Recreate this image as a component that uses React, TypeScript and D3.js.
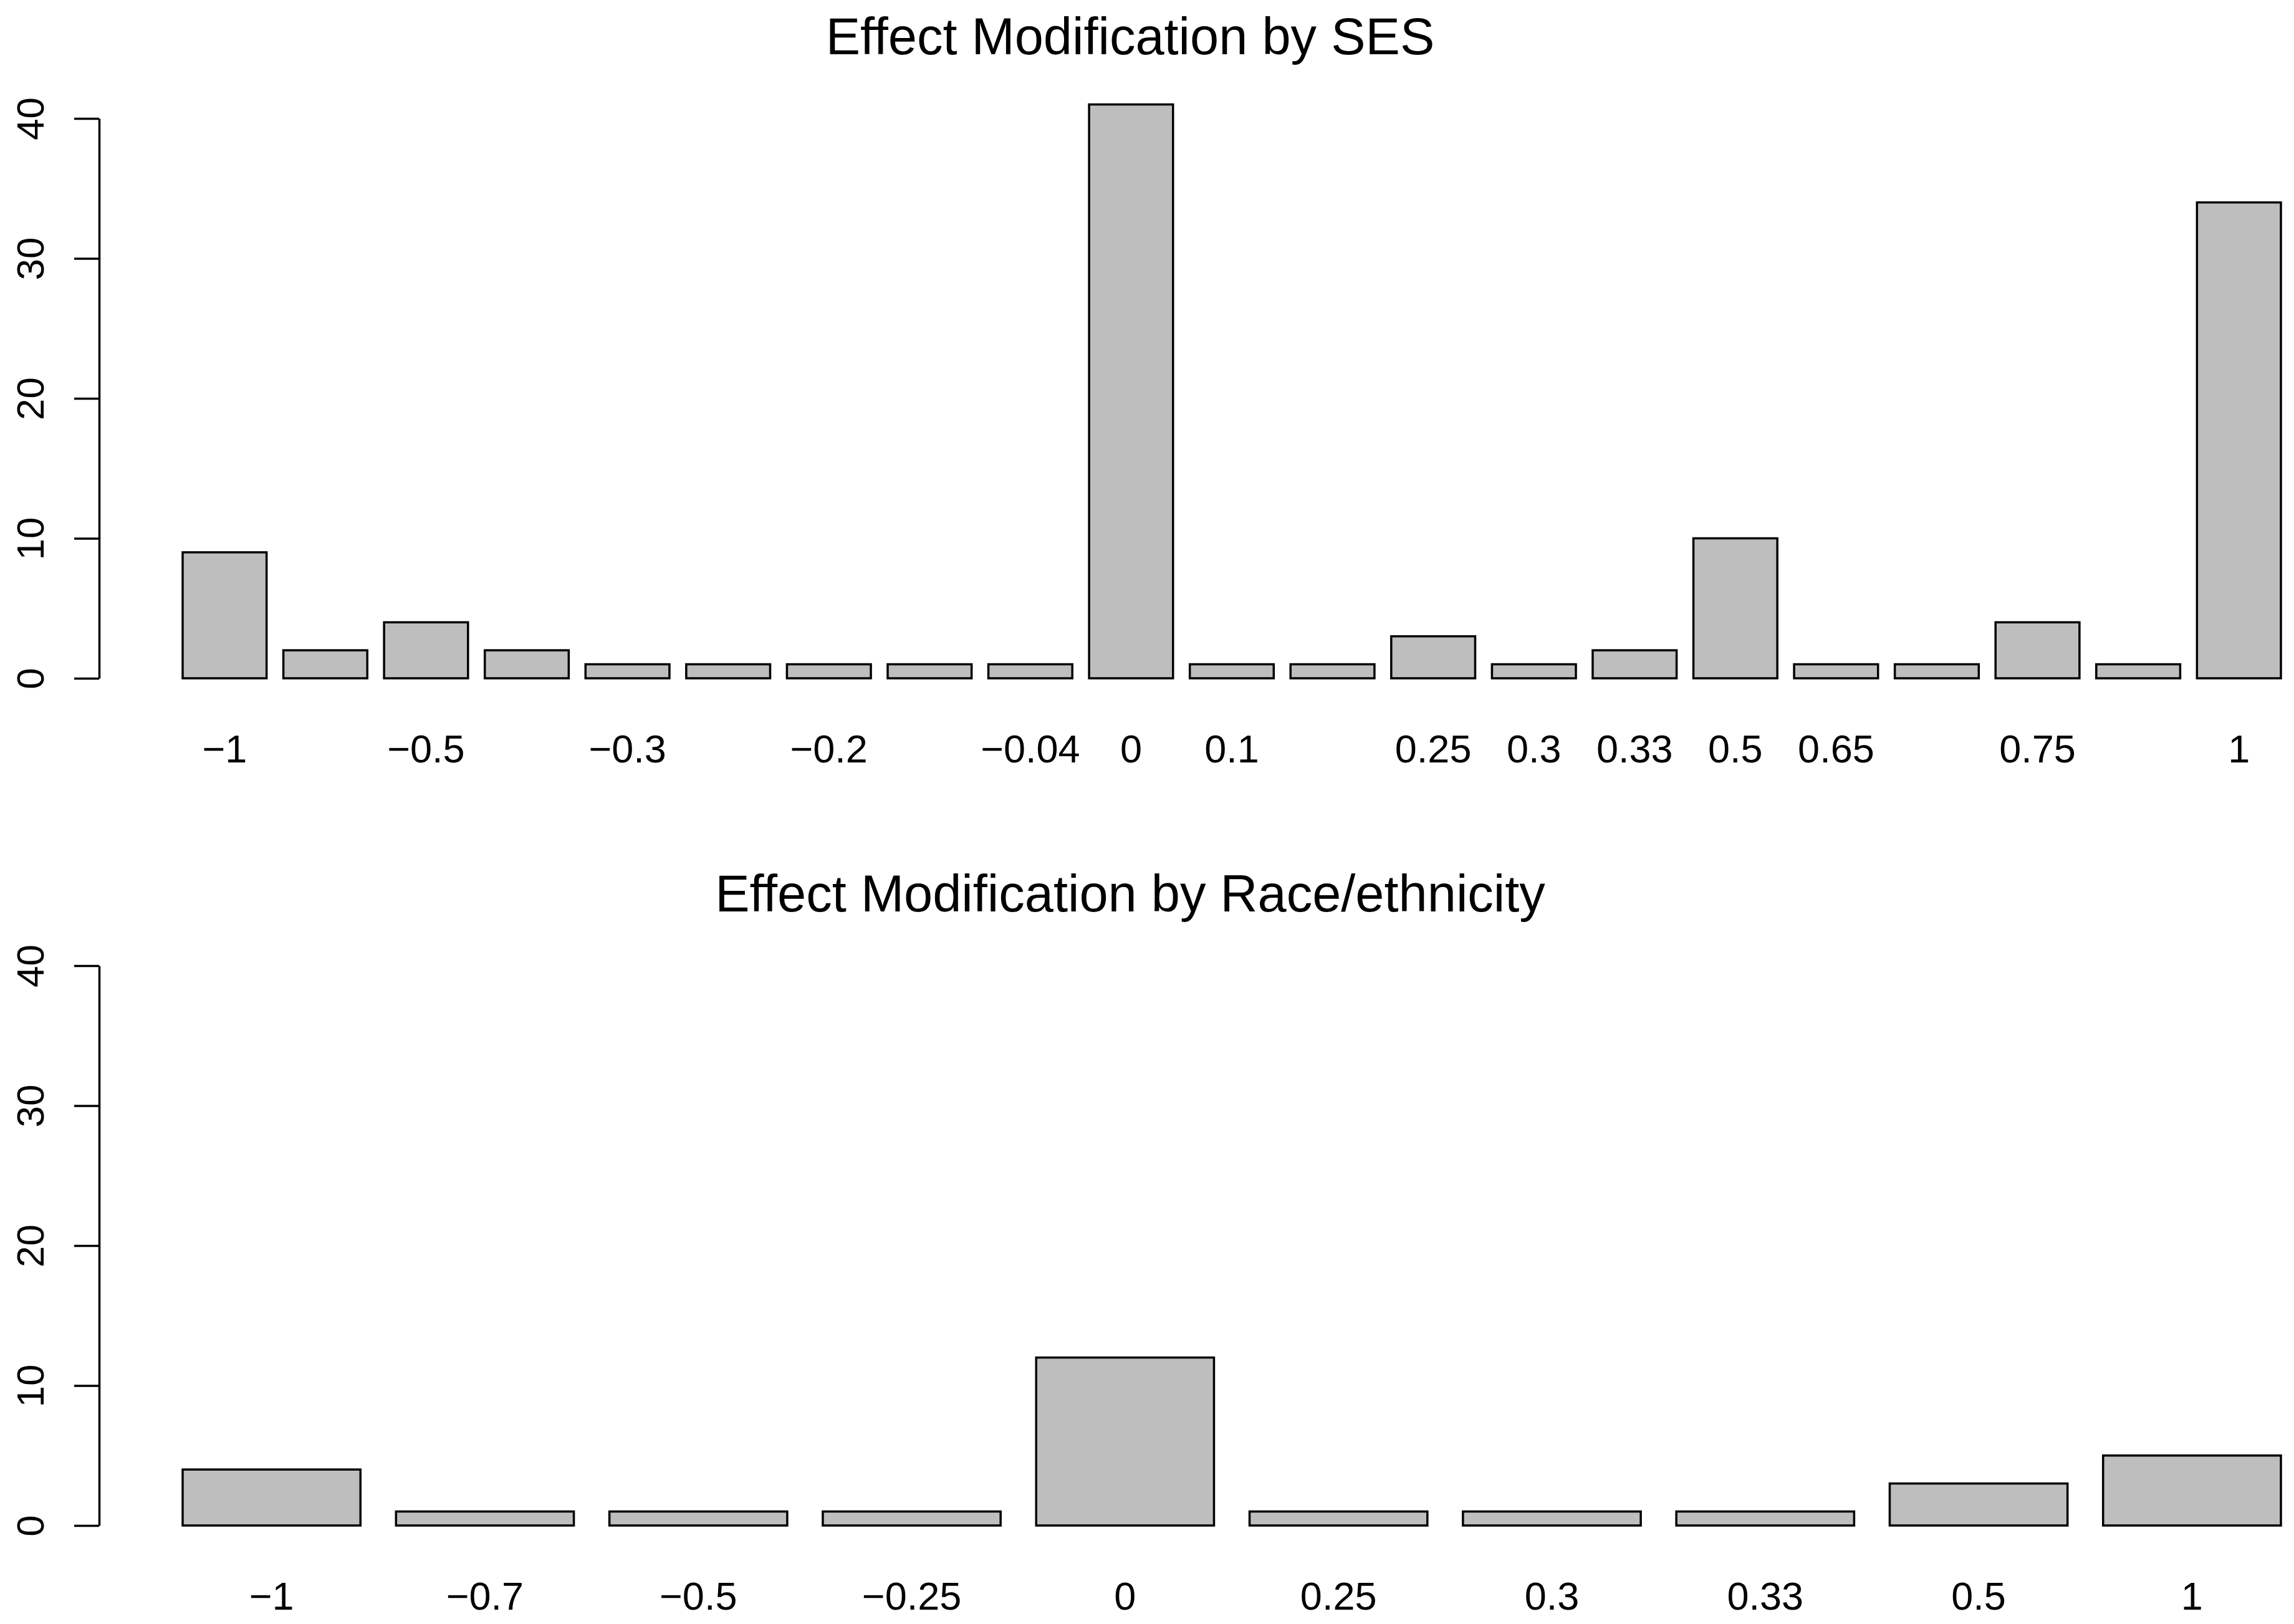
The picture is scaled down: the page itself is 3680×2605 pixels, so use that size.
import React, { useEffect, useRef } from 'react';
import * as d3 from 'd3';

// SES panel (labels left blank where R dropped them for overlap)
const sesLabels = ['\u22121', '', '\u22120.5', '', '\u22120.3', '', '\u22120.2', '', '\u22120.04', '0', '0.1', '', '0.25', '0.3', '0.33', '0.5', '0.65', '', '0.75', '', '1'];
const sesCounts = [9, 2, 4, 2, 1, 1, 1, 1, 1, 41, 1, 1, 3, 1, 2, 10, 1, 1, 4, 1, 34];

// Race/ethnicity panel
const raceLabels = ['\u22121', '\u22120.7', '\u22120.5', '\u22120.25', '0', '0.25', '0.3', '0.33', '0.5', '1'];
const raceCounts = [4, 1, 1, 1, 12, 1, 1, 1, 3, 5];

const yTicks = [0, 10, 20, 30, 40];

const WIDTH = 3680;
const HEIGHT = 2605;
const FONT = '"Liberation Sans", Arial, Helvetica, sans-serif';

interface PanelSpec {
  title: string;
  labels: string[];
  counts: number[];
  titleBaseline: number;
  yZero: number;
  yTop: number;
}

const panels: PanelSpec[] = [
  { title: 'Effect Modification by SES', labels: sesLabels, counts: sesCounts, titleBaseline: 87, yZero: 1088, yTop: 190 },
  { title: 'Effect Modification by Race/ethnicity', labels: raceLabels, counts: raceCounts, titleBaseline: 1462, yZero: 2447, yTop: 1549 },
];

const App: React.FC = () => {
  const svgRef = useRef<SVGSVGElement>(null);

  useEffect(() => {
    if (!svgRef.current) return;
    const axisX = 159;
    const barsLeft = 293;
    const barsRight = 3659;
    const titleX = 1813;

    const root = d3.select(svgRef.current);
    root.selectAll('*').remove();
    root.append('rect').attr('width', WIDTH).attr('height', HEIGHT).attr('fill', '#fff');

    panels.forEach((p) => {
      const g = root.append('g');
      const idx = p.counts.map((_, i) => String(i));

      // R barplot: space = 0.2 -> inner padding of 0.2 / 1.2
      const x = d3.scaleBand<string>()
        .domain(idx)
        .range([barsLeft, barsRight])
        .paddingInner(0.2 / 1.2)
        .paddingOuter(0);

      const y = d3.scaleLinear().domain([0, 40]).range([p.yZero, p.yTop]);

      // title
      g.append('text')
        .attr('x', titleX)
        .attr('y', p.titleBaseline)
        .attr('text-anchor', 'middle')
        .style('font-family', FONT)
        .style('font-size', '83px')
        .style('fill', '#000')
        .text(p.title);

      // bars
      g.selectAll('rect.bar')
        .data(p.counts)
        .enter()
        .append('rect')
        .attr('class', 'bar')
        .attr('x', (_, i) => x(String(i)) as number)
        .attr('y', (d) => y(d))
        .attr('width', x.bandwidth())
        .attr('height', (d) => y(0) - y(d))
        .attr('fill', '#bebebe')
        .attr('stroke', '#000')
        .attr('stroke-width', 3.5);

      // y axis
      const yAxis = g.append('g')
        .attr('transform', `translate(${axisX},0)`)
        .call(d3.axisLeft(y).tickValues(yTicks).tickSize(40).tickSizeOuter(0).tickFormat(d3.format('d')));
      yAxis.select('.domain').attr('stroke', '#000').attr('stroke-width', 3.5);
      yAxis.selectAll('.tick line').attr('stroke', '#000').attr('stroke-width', 3.5);
      yAxis.selectAll('.tick text')
        .attr('transform', 'rotate(-90)')
        .attr('x', 0)
        .attr('y', -89)
        .attr('dy', null)
        .attr('text-anchor', 'middle')
        .style('font-family', FONT)
        .style('font-size', '62px')
        .style('fill', '#000');

      // x labels (no axis line, as in barplot)
      const xAxis = g.append('g')
        .attr('transform', `translate(0,${p.yZero})`)
        .call(d3.axisBottom(x).tickSize(0).tickFormat((d) => p.labels[+d]));
      xAxis.select('.domain').remove();
      xAxis.selectAll('.tick text')
        .attr('y', 135)
        .attr('dy', null)
        .style('font-family', FONT)
        .style('font-size', '63px')
        .style('fill', '#000');
    });
  }, []);

  return (
    <svg
      ref={svgRef}
      width={WIDTH}
      height={HEIGHT}
      style={{ position: 'absolute', left: 0, top: 0, display: 'block' }}
    />
  );
};

export default App;
